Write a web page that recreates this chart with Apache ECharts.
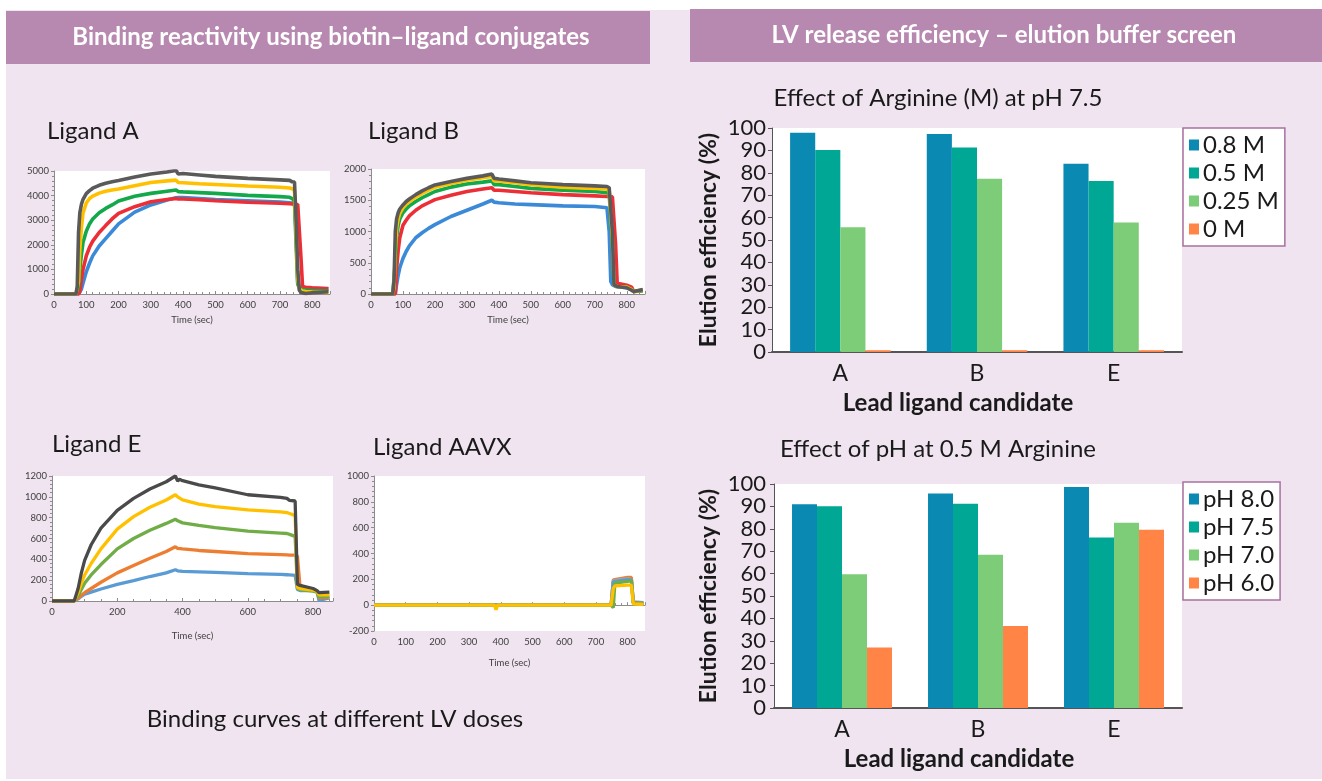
<!DOCTYPE html>
<html>
<head>
<meta charset="utf-8">
<script src="https://cdn.jsdelivr.net/npm/echarts@6/dist/echarts.min.js"></script>
<style>
  html, body { margin: 0; padding: 0; background: #ffffff; }
  #panel { position: absolute; left: 6px; top: 10px; width: 1316px; height: 769px; background: #efe4ef; }
  #chart { position: absolute; left: 0; top: 0; width: 1322px; height: 781px; }
</style>
</head>
<body>
<div id="panel"></div>
<div id="chart"></div>
<script>
// ---- Binding curves (response units vs. time in seconds) ----
const timeA = [0, 68, 72, 76, 80, 85, 90, 100, 110, 120, 140, 160, 180, 200, 250, 300, 350, 378, 385, 400, 450, 500, 600, 700, 730, 738, 745, 750, 755, 760, 765, 770, 780, 800, 850];
const ligandA_gray   = [0, 0, 300, 2500, 3300, 3650, 3850, 4080, 4200, 4300, 4420, 4500, 4560, 4610, 4760, 4880, 4960, 5020, 4880, 4900, 4840, 4780, 4700, 4640, 4620, 4560, 4550, 3000, 1000, 150, 60, 20, 20, 50, 90];
const ligandA_yellow = [0, 0, 0, 500, 1800, 2700, 3300, 3700, 3880, 3980, 4100, 4180, 4230, 4270, 4400, 4530, 4600, 4630, 4530, 4520, 4480, 4450, 4390, 4340, 4310, 4280, 4200, 2500, 600, 200, 150, 120, 100, 80, 60];
const ligandA_green  = [0, 0, 0, 300, 1000, 1600, 2100, 2550, 2850, 3050, 3300, 3480, 3620, 3780, 3970, 4090, 4180, 4230, 4160, 4150, 4120, 4090, 4010, 3960, 3930, 3880, 3800, 2000, 400, 250, 200, 180, 160, 140, 120];
const ligandA_red    = [0, 0, 0, 0, 100, 600, 1000, 1550, 1900, 2150, 2500, 2780, 3050, 3280, 3550, 3750, 3840, 3880, 3860, 3860, 3830, 3790, 3730, 3690, 3670, 3660, 3650, 3650, 3640, 3600, 1500, 300, 270, 250, 210];
const ligandA_blue   = [0, 0, 0, 0, 0, 200, 450, 900, 1250, 1550, 1950, 2250, 2550, 2850, 3330, 3620, 3820, 3910, 3920, 3920, 3880, 3840, 3790, 3740, 3710, 3700, 3690, 2500, 500, 280, 260, 250, 240, 230, 220];

const timeB = [0, 68, 72, 76, 80, 85, 90, 100, 110, 120, 140, 160, 180, 200, 250, 300, 350, 378, 385, 400, 450, 500, 600, 700, 738, 745, 750, 755, 760, 765, 770, 800, 815, 822, 850];
const ligandB_gray   = [0, 0, 200, 1000, 1200, 1300, 1360, 1425, 1480, 1520, 1590, 1650, 1700, 1745, 1800, 1850, 1890, 1920, 1850, 1840, 1810, 1780, 1750, 1730, 1720, 1700, 1700, 1000, 150, 130, 120, 100, 60, 40, 70];
const ligandB_yellow = [0, 0, 100, 700, 1050, 1200, 1290, 1380, 1440, 1480, 1550, 1610, 1660, 1710, 1770, 1820, 1860, 1880, 1810, 1810, 1780, 1750, 1710, 1690, 1680, 1650, 1650, 900, 150, 130, 120, 110, 70, 40, 60];
const ligandB_green  = [0, 0, 0, 500, 900, 1100, 1200, 1300, 1360, 1410, 1480, 1540, 1590, 1640, 1710, 1760, 1790, 1810, 1750, 1750, 1720, 1690, 1660, 1640, 1620, 1600, 1600, 800, 150, 130, 120, 110, 70, 40, 50];
const ligandB_red    = [0, 0, 0, 0, 400, 700, 900, 1100, 1180, 1250, 1340, 1410, 1460, 1510, 1580, 1640, 1680, 1700, 1660, 1660, 1640, 1620, 1590, 1570, 1560, 1560, 1560, 1555, 1550, 800, 170, 140, 110, 40, 60];
const ligandB_blue   = [0, 0, 0, 0, 150, 300, 420, 570, 680, 770, 900, 980, 1050, 1110, 1240, 1340, 1440, 1500, 1470, 1460, 1440, 1430, 1410, 1400, 1380, 1000, 200, 150, 130, 120, 115, 100, 70, 40, 60];

const timeE = [0, 68, 72, 80, 90, 100, 120, 150, 200, 250, 300, 350, 378, 385, 390, 400, 450, 500, 600, 700, 720, 728, 745, 752, 760, 800, 812, 818, 850];
const ligandE_gray   = [0, 0, 0, 120, 270, 390, 540, 700, 870, 985, 1075, 1145, 1200, 1150, 1170, 1155, 1115, 1085, 1020, 995, 985, 965, 960, 160, 150, 120, 100, 80, 85];
const ligandE_yellow = [0, 0, 0, 80, 170, 250, 360, 500, 690, 810, 900, 970, 1020, 1000, 990, 970, 930, 905, 875, 855, 848, 840, 820, 130, 120, 105, 95, 60, 60];
const ligandE_green  = [0, 0, 0, 50, 110, 170, 250, 350, 500, 600, 680, 745, 785, 770, 765, 750, 725, 705, 670, 652, 648, 640, 620, 120, 110, 95, 85, 40, 45];
const ligandE_orange = [0, 0, 0, 25, 55, 80, 120, 180, 270, 340, 410, 475, 520, 505, 510, 500, 485, 475, 455, 445, 442, 440, 440, 430, 130, 110, 100, 30, 35];
const ligandE_blue   = [0, 0, 0, 20, 45, 65, 85, 115, 160, 195, 235, 270, 300, 290, 290, 285, 280, 275, 262, 255, 252, 250, 245, 110, 100, 100, 90, 5, 30];

const timeX = [0, 70, 75, 380, 385, 390, 740, 748, 755, 760, 800, 812, 818, 850];
const ligandX_orange = [0, 0, 5, 0, 0, 0, 0, 0, 195, 205, 215, 215, 25, 20];
const ligandX_gray   = [0, 0, 5, 0, 0, 0, 0, 0, 190, 200, 205, 200, 20, 15];
const ligandX_blue   = [0, 0, 5, 0, 0, 0, 0, 0, 180, 190, 198, 195, 20, 15];
const ligandX_green  = [0, 0, 5, 0, 0, 0, 0, 0, -20, 170, 185, 190, 15, 10];
const ligandX_yellow = [0, 0, 10, 0, -35, 0, 0, 0, 130, 150, 155, 155, 10, 5];

// ---- Elution efficiency (%) ----
const candidates = ['A', 'B', 'E'];
const arginineLevels = ['0.8 M', '0.5 M', '0.25 M', '0 M'];
const arg08 = [97.9, 97.3, 84.0];
const arg05 = [90.2, 91.3, 76.3];
const arg025 = [55.7, 77.3, 57.8];
const arg0 = [0.8, 0.8, 0.8];
const phLevels = ['pH 8.0', 'pH 7.5', 'pH 7.0', 'pH 6.0'];
const ph80 = [91.0, 95.8, 98.7];
const ph75 = [90.1, 91.2, 76.1];
const ph70 = [59.7, 68.4, 82.7];
const ph60 = [27.0, 36.6, 79.6];
const percentTicks = [0, 10, 20, 30, 40, 50, 60, 70, 80, 90, 100];

const FONT = 'Lato, "Noto Sans", sans-serif';
const barColors = ['#0a89b2', '#00a795', '#7dcc77', '#ff8445'];

function pairs(times, vals) { return times.map((t, i) => [t, vals[i]]); }

function curve(times, vals, color, idx, width) {
  return {
    type: 'line', xAxisIndex: idx, yAxisIndex: idx,
    data: pairs(times, vals), showSymbol: false, symbol: 'none',
    lineStyle: { color: color, width: width }, silent: true, animation: false
  };
}

function curveX(idx, max, step, gap, labelMargin) {
  return {
    type: 'value', gridIndex: idx, min: 0, max: max, interval: step,
    name: 'Time (sec)', nameLocation: 'middle', nameGap: gap,
    nameTextStyle: { fontFamily: FONT, fontSize: 9.5, color: '#404040' },
    axisLine: { lineStyle: { color: '#8c8c8c', width: 1 } },
    axisTick: { show: true, inside: true, length: 3, lineStyle: { color: '#8c8c8c' } },
    minorTick: { show: true, splitNumber: step === 200 ? 4 : 5, length: 2, lineStyle: { color: '#8c8c8c' } },
    axisLabel: { fontFamily: FONT, fontSize: 9.5, color: '#404040', margin: labelMargin, showMaxLabel: false,
      formatter: v => (v % step === 0 ? String(v) : '') },
    splitLine: { show: false }
  };
}

function curveY(idx, min, max, step) {
  return {
    type: 'value', gridIndex: idx, min: min, max: max, interval: step,
    axisLine: { show: true, lineStyle: { color: '#8c8c8c', width: 1 } },
    axisTick: { show: true, length: 3, lineStyle: { color: '#8c8c8c' } },
    minorTick: { show: true, splitNumber: 5, length: 2, lineStyle: { color: '#8c8c8c' } },
    axisLabel: { fontFamily: FONT, fontSize: 9.5, color: '#404040', margin: 5, formatter: v => String(v) },
    splitLine: { show: false }
  };
}

function barX(idx) {
  return {
    type: 'category', gridIndex: idx, data: candidates,
    name: 'Lead ligand candidate', nameLocation: 'middle', nameGap: 39,
    nameTextStyle: { fontFamily: FONT, fontSize: 24, fontWeight: 'bold', color: '#1a1a1a', padding: [0, 38, 0, 0] },
    axisLine: { lineStyle: { color: '#555555', width: 2 } },
    axisTick: { show: false },
    axisLabel: { fontFamily: FONT, fontSize: 23, color: '#1a1a1a', margin: 10 }
  };
}

function barY(idx, gap, margin) {
  return {
    type: 'value', gridIndex: idx, min: 0, max: 100, interval: 10,
    name: 'Elution efficiency (%)', nameLocation: 'middle', nameGap: gap,
    nameTextStyle: { fontFamily: FONT, fontSize: 23, fontWeight: 'bold', color: '#1a1a1a' },
    axisLine: { show: true, lineStyle: { color: '#555555', width: 1 } },
    axisTick: { show: true, length: 4, lineStyle: { color: '#555555' } },
    axisLabel: { fontFamily: FONT, fontSize: 22, color: '#1a1a1a', margin: margin,
      formatter: v => (percentTicks.indexOf(v) >= 0 ? String(v) : '') },
    splitLine: { show: false }
  };
}

function bars(names, values, idx) {
  return names.map((n, i) => ({
    type: 'bar', name: n, xAxisIndex: idx, yAxisIndex: idx, data: values[i],
    barGap: '0%', barCategoryGap: '26.5%',
    itemStyle: { color: barColors[i] },
    animation: false
  }));
}

function legendBox(names, top) {
  return {
    data: names, orient: 'vertical', left: 1183, top: top, icon: 'rect',
    itemWidth: 10, itemHeight: 11, itemGap: 4,
    backgroundColor: '#ffffff', borderColor: '#a8719f', borderWidth: 1.5,
    padding: [5, 6, 5, 6], selectedMode: false,
    textStyle: { fontFamily: FONT, fontSize: 24, color: '#1a1a1a', padding: [0, 0, 0, -1] }
  };
}

const chart = echarts.init(document.getElementById('chart'), null, { renderer: 'canvas' });

const option = {
  backgroundColor: 'transparent',
  animation: false,
  grid: [
    { left: 54, top: 171, width: 276, height: 123, show: true, backgroundColor: '#ffffff', borderWidth: 0 },
    { left: 371, top: 169, width: 274, height: 125, show: true, backgroundColor: '#ffffff', borderWidth: 0 },
    { left: 52, top: 476, width: 281, height: 125, show: true, backgroundColor: '#ffffff', borderWidth: 0 },
    { left: 374, top: 476, width: 271, height: 155, show: true, backgroundColor: '#ffffff', borderWidth: 0 },
    { left: 772, top: 128, width: 410, height: 224, show: true, backgroundColor: '#ffffff', borderWidth: 0 },
    { left: 774, top: 484, width: 408, height: 224, show: true, backgroundColor: '#ffffff', borderWidth: 0 }
  ],
  xAxis: [
    curveX(0, 855, 100, 21, 6),
    curveX(1, 857, 100, 21, 6),
    curveX(2, 861, 200, 30, 6),
    curveX(3, 855, 100, 27, 6),
    barX(4),
    barX(5)
  ],
  yAxis: [
    curveY(0, 0, 5000, 1000),
    curveY(1, 0, 2000, 500),
    curveY(2, 0, 1200, 200),
    curveY(3, -200, 1000, 200),
    barY(4, 52, 6),
    barY(5, 54, 8)
  ],
  legend: [legendBox(arginineLevels, 128), legendBox(phLevels, 482)],
  series: [
    curve(timeA, ligandA_blue, '#3a8ad8', 0, 3.6),
    curve(timeA, ligandA_red, '#ec2f37', 0, 3.6),
    curve(timeA, ligandA_green, '#13a84a', 0, 3.6),
    curve(timeA, ligandA_yellow, '#ffc000', 0, 3.6),
    curve(timeA, ligandA_gray, '#5a5a5a', 0, 3.6),

    curve(timeB, ligandB_blue, '#3a8ad8', 1, 3.6),
    curve(timeB, ligandB_red, '#ec2f37', 1, 3.6),
    curve(timeB, ligandB_green, '#13a84a', 1, 3.6),
    curve(timeB, ligandB_yellow, '#ffc000', 1, 3.6),
    curve(timeB, ligandB_gray, '#5a5a5a', 1, 3.6),

    curve(timeE, ligandE_blue, '#5b9bd5', 2, 3.3),
    curve(timeE, ligandE_orange, '#ed7d31', 2, 3.3),
    curve(timeE, ligandE_green, '#70ad47', 2, 3.3),
    curve(timeE, ligandE_yellow, '#ffc000', 2, 3.3),
    curve(timeE, ligandE_gray, '#4a4a4a', 2, 3.3),

    curve(timeX, ligandX_orange, '#ed7d31', 3, 3.3),
    curve(timeX, ligandX_gray, '#a5a5a5', 3, 3.3),
    curve(timeX, ligandX_blue, '#5b9bd5', 3, 3.3),
    curve(timeX, ligandX_green, '#70ad47', 3, 3.3),
    curve(timeX, ligandX_yellow, '#ffc000', 3, 3.3)
  ].concat(
    bars(arginineLevels, [arg08, arg05, arg025, arg0], 4),
    bars(phLevels, [ph80, ph75, ph70, ph60], 5)
  ),
  graphic: [
    { type: 'rect', left: 6, top: 11, shape: { width: 644, height: 53 }, style: { fill: '#b889b0' } },
    { type: 'rect', left: 690, top: 9, shape: { width: 632, height: 53 }, style: { fill: '#b889b0' } },
    { type: 'text', x: 331, y: 37, style: { text: 'Binding reactivity using biotin\u2013ligand conjugates', fontFamily: FONT, fontSize: 24, fontWeight: 'bold', fill: '#ffffff', align: 'center', verticalAlign: 'middle' } },
    { type: 'text', x: 1004, y: 35, style: { text: 'LV release efficiency \u2013 elution buffer screen', fontFamily: FONT, fontSize: 24, fontWeight: 'bold', fill: '#ffffff', align: 'center', verticalAlign: 'middle' } },
    { type: 'text', x: 47, y: 131, style: { text: 'Ligand A', fontFamily: FONT, fontSize: 24, fill: '#1a1a1a', verticalAlign: 'middle' } },
    { type: 'text', x: 368, y: 131, style: { text: 'Ligand B', fontFamily: FONT, fontSize: 24, fill: '#1a1a1a', verticalAlign: 'middle' } },
    { type: 'text', x: 52, y: 444, style: { text: 'Ligand E', fontFamily: FONT, fontSize: 24, fill: '#1a1a1a', verticalAlign: 'middle' } },
    { type: 'text', x: 373, y: 447, style: { text: 'Ligand AAVX', fontFamily: FONT, fontSize: 24, fill: '#1a1a1a', verticalAlign: 'middle' } },
    { type: 'text', x: 335, y: 719, style: { text: 'Binding curves at different LV doses', fontFamily: FONT, fontSize: 24, fill: '#1a1a1a', align: 'center', verticalAlign: 'middle' } },
    { type: 'text', x: 938, y: 98, style: { text: 'Effect of Arginine (M) at pH 7.5', fontFamily: FONT, fontSize: 24, fill: '#1a1a1a', align: 'center', verticalAlign: 'middle' } },
    { type: 'text', x: 938, y: 449, style: { text: 'Effect of pH at 0.5 M Arginine', fontFamily: FONT, fontSize: 24, fill: '#1a1a1a', align: 'center', verticalAlign: 'middle' } }
  ]
};

chart.setOption(option);
</script>
</body>
</html>
